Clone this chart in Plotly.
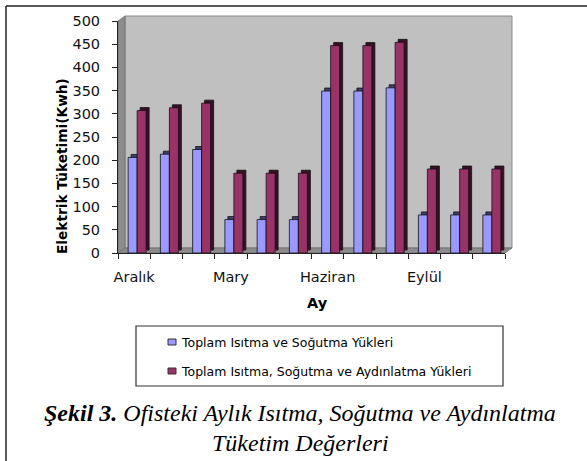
import plotly.graph_objects as go

# ---------------- data ----------------
months = ["Aralık", "Ocak", "Şubat", "Mary", "Nisan", "Mayıs",
          "Haziran", "Temmuz", "Ağustos", "Eylül", "Ekim", "Kasım"]
tick_labels = ["Aralık", "", "", "Mary", "", "", "Haziran", "", "", "Eylül", "", ""]
heat_cool = [206, 213, 223, 72, 72, 72, 349, 349, 356, 82, 82, 82]
heat_cool_light = [307, 313, 323, 172, 172, 172, 447, 447, 454, 181, 181, 181]
series_names = ["Toplam Isıtma ve Soğutma Yükleri",
                "Toplam Isıtma, Soğutma ve Aydınlatma Yükleri"]
y_ticks = list(range(0, 501, 50))

# ---------------- geometry (pixels) ----------------
W, H = 587, 461
PL, PR, PT, PB = 118, 505, 21, 253        # plot area
pw, ph = PR - PL, PB - PT


def px(x):
    return (x - PL) / pw


def py(y):
    return (PB - y) / ph


BLUE, BLUE_D = "#9999FF", "#3d3d70"
RED, RED_D = "#993366", "#3a0f25"
BW = 9 / 32.25          # bar width in category units
DX = 3 / 32.25          # 3D depth offset (x)
DY = 3 / (ph / 500)     # 3D depth offset (y, data units)

fig = go.Figure()
for vals, col, dark, off, name in [
    (heat_cool, BLUE, BLUE_D, -6 / 32.25, series_names[0]),
    (heat_cool_light, RED, RED_D, 3 / 32.25, series_names[1]),
]:
    # depth (side + top) of the 3D bar
    fig.add_trace(go.Bar(x=months, y=vals, base=[DY] * len(vals),
                         width=BW, offset=off + DX,
                         marker=dict(color=dark, line=dict(color="#111", width=0.8)),
                         showlegend=False, hoverinfo="skip"))
    # front face
    fig.add_trace(go.Bar(x=months, y=vals, width=BW, offset=off, name=name,
                         marker=dict(color=col, line=dict(color="#111", width=0.8)),
                         showlegend=False))

shapes = [
    # back wall
    dict(type="rect", xref="paper", yref="paper", x0=px(125), x1=px(512),
         y0=py(248), y1=py(16), fillcolor="#C0C0C0",
         line=dict(color="#8a8a8a", width=1), layer="below"),
    # left wall
    dict(type="path", xref="paper", yref="paper",
         path=f"M {px(118)},{py(253)} L {px(125)},{py(248)} L {px(125)},{py(16)} L {px(118)},{py(21)} Z",
         fillcolor="#8c8c8c", line=dict(color="#707070", width=0.8), layer="below"),
    # floor
    dict(type="path", xref="paper", yref="paper",
         path=f"M {px(118)},{py(253)} L {px(125)},{py(248)} L {px(512)},{py(248)} L {px(505)},{py(253)} Z",
         fillcolor="#8c8c8c", line=dict(color="#707070", width=0.8), layer="below"),
    # outer frame (left + top)
    dict(type="line", xref="paper", yref="paper", x0=px(6), x1=px(6),
         y0=py(6), y1=py(470), line=dict(color="#222", width=1.5)),
    dict(type="line", xref="paper", yref="paper", x0=px(6), x1=px(600),
         y0=py(6), y1=py(6), line=dict(color="#222", width=1.5)),
    # legend box
    dict(type="rect", xref="paper", yref="paper", x0=px(136), x1=px(503),
         y0=py(386), y1=py(326), line=dict(color="#333", width=1.2),
         fillcolor="white"),
    # legend swatches
    dict(type="rect", xref="paper", yref="paper", x0=px(168), x1=px(176),
         y0=py(345), y1=py(339), fillcolor=BLUE, line=dict(color="#333", width=1)),
    dict(type="rect", xref="paper", yref="paper", x0=px(168), x1=px(176),
         y0=py(374), y1=py(368), fillcolor=RED, line=dict(color="#333", width=1)),
]

ann_font = dict(family="DejaVu Sans", color="black")
cap_font = dict(family="Liberation Serif", size=24, color="black", style="italic")
annotations = [
    dict(text="<b>Elektrik Tüketimi(Kwh)</b>", xref="paper", yref="paper",
         x=px(62), y=py(166), xanchor="center", yanchor="middle",
         textangle=-90, showarrow=False, font=dict(size=13.7, **ann_font)),
    dict(text="<b>Ay</b>", xref="paper", yref="paper", x=px(317), y=py(303),
         xanchor="center", yanchor="middle",
         showarrow=False, font=dict(size=14.5, **ann_font)),
    dict(text=series_names[0], xref="paper", yref="paper", x=px(179), y=py(342),
         xanchor="left", yanchor="middle", showarrow=False,
         font=dict(size=12.5, **ann_font)),
    dict(text=series_names[1], xref="paper", yref="paper", x=px(179), y=py(371),
         xanchor="left", yanchor="middle", showarrow=False,
         font=dict(size=12.5, **ann_font)),
    dict(text="<b>Şekil 3.</b> Ofisteki Aylık Isıtma, Soğutma ve Aydınlatma",
         xref="paper", yref="paper", x=px(300), y=py(413), xanchor="center",
         yanchor="middle", showarrow=False, font=cap_font),
    dict(text="Tüketim Değerleri",
         xref="paper", yref="paper", x=px(300), y=py(443), xanchor="center",
         yanchor="middle", showarrow=False, font=cap_font),
]

fig.update_layout(
    width=W, height=H,
    margin=dict(l=PL, r=W - PR, t=PT, b=H - PB, pad=0),
    paper_bgcolor="white", plot_bgcolor="rgba(0,0,0,0)",
    barmode="overlay", showlegend=False,
    shapes=shapes, annotations=annotations,
    font=dict(family="DejaVu Sans", color="black"),
)
fig.update_xaxes(type="category", categoryorder="array", categoryarray=months,
                 range=[-0.5, 11.5], tickmode="array", tickvals=months,
                 ticktext=tick_labels, tickson="boundaries", ticks="outside",
                 ticklen=5, tickcolor="#222", showline=True, linecolor="#222",
                 linewidth=1, showgrid=False, ticklabelstandoff=11, tickangle=0,
                 tickfont=dict(size=14.5, family="DejaVu Sans", color="#111"))
fig.update_yaxes(range=[0, 500], tickmode="array", tickvals=y_ticks,
                 ticks="outside", ticklen=5, tickcolor="#222", showline=True,
                 linecolor="#222", linewidth=1, showgrid=False, zeroline=False,
                 ticklabelstandoff=9,
                 tickfont=dict(size=14.5, family="DejaVu Sans", color="#111"))

fig.write_html("out.html", config={"displayModeBar": False},
               post_script="document.body.style.margin='0px';")
